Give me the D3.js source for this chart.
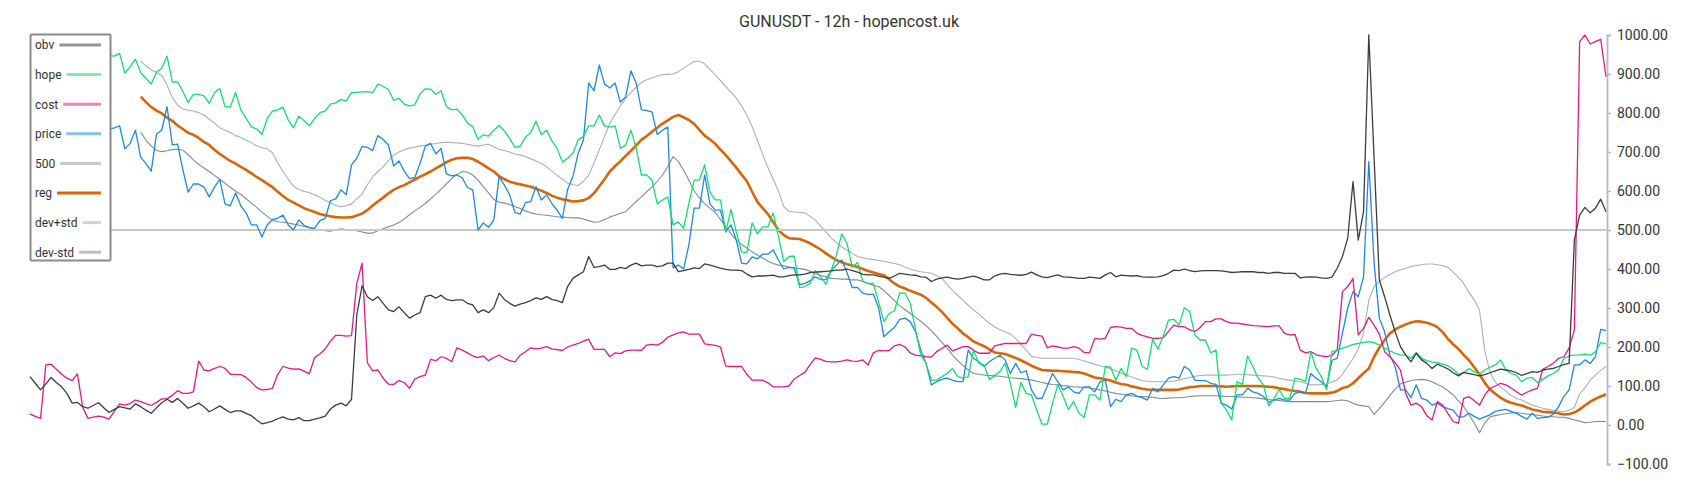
<!DOCTYPE html>
<html><head><meta charset="utf-8">
<script src="https://cdn.jsdelivr.net/npm/d3@7"></script>
<style>body{margin:0;background:#fff;} svg{display:block;font-family:Roboto, "Noto Sans", sans-serif;}</style>
</head><body>
<svg id="chart" width="1700" height="500"></svg>
<script>
const title = "GUNUSDT - 12h - hopencost.uk";
const seriesNames = ["obv","hope","cost","price","500","reg","dev+std","dev-std"];
const yTickValues = [-100,0,100,200,300,400,500,600,700,800,900,1000];
const levelValue = 500;

const obv = [
124,107,90,105,122,109,98,81,56,58,
47,43,50,57,44,32,40,47,44,41,
54,47,38,30,44,57,66,58,68,56,
43,49,56,47,34,41,49,40,32,36,
36,30,24,13,3,6,10,16,21,15,
13,19,11,11,15,18,23,41,51,56,
49,66,282,357,329,319,329,312,295,291,
303,288,274,282,288,329,333,325,333,322,
319,321,321,312,308,288,295,288,301,338,
322,312,305,310,314,319,326,322,329,322,
319,314,355,376,385,393,432,404,406,410,
399,399,404,401,410,415,408,410,410,406,
408,415,415,393,396,399,403,401,413,410,
406,402,399,397,397,396,387,380,382,382,
383,384,380,380,383,385,385,387,391,392,
393,394,395,397,397,400,396,392,386,385,
385,382,379,376,382,389,387,385,384,380,
379,368,374,377,379,376,374,376,379,382,
378,372,372,382,387,389,386,385,384,386,
392,385,380,378,382,385,380,379,378,376,
376,379,378,376,385,391,380,384,383,382,
383,380,379,379,380,383,389,397,396,400,
396,393,395,396,396,396,395,393,391,392,
393,393,393,391,391,389,391,391,389,389,
389,377,379,380,379,377,376,379,402,432,
479,624,474,547,1000,686,372,329,282,239,
201,179,162,184,167,158,145,156,150,144,
134,126,135,132,129,126,129,134,139,143,
141,139,134,127,132,137,135,141,143,145,
150,155,158,474,538,558,544,556,579,547];

const hope = [
935,945,950,940,938,945,930,935,942,948,
940,935,945,950,944,947,946,953,902,919,
938,903,889,874,905,915,946,879,880,855,
827,848,848,844,825,852,863,816,815,853,
808,786,765,759,745,786,805,808,815,782,
762,792,780,767,786,801,805,823,826,835,
831,852,853,854,855,852,874,868,861,832,
838,823,818,821,849,862,861,848,857,816,
808,810,795,774,765,733,744,741,756,768,
754,735,712,715,738,750,779,744,756,729,
709,674,684,697,731,740,767,767,795,767,
764,767,710,717,756,711,641,641,628,567,
577,585,513,521,504,568,628,628,667,597,
577,577,495,553,495,444,442,518,490,508,
508,544,483,419,432,433,352,355,363,396,
380,361,396,436,490,466,404,417,368,363,
363,315,265,286,293,339,338,312,244,179,
158,115,115,124,132,145,124,120,124,192,
158,154,117,126,137,158,107,45,109,81,
77,38,2,2,56,103,74,40,60,30,
20,77,77,64,150,148,115,145,124,197,
192,150,143,220,194,228,269,271,256,301,
291,231,218,218,185,192,56,38,13,111,
104,177,150,120,103,49,68,91,68,68,
120,117,111,188,145,124,90,188,192,197,
201,207,209,212,214,211,205,197,190,184,
179,179,171,186,171,165,161,160,156,152,
143,130,134,145,137,131,141,148,154,167,
141,132,128,111,120,122,109,117,126,132,
141,171,177,179,180,182,179,188,211,208];

const cost = [
28,22,17,154,156,143,130,120,114,131,
45,17,20,23,20,15,35,54,51,55,
64,60,55,50,58,67,67,76,88,81,
81,85,164,141,139,145,150,145,130,130,
129,122,110,96,90,91,94,130,150,146,
143,144,138,131,173,182,195,215,230,230,
228,229,363,415,160,139,141,120,105,104,
114,109,94,118,124,128,168,165,175,171,
162,198,192,185,177,173,177,165,173,179,
171,165,162,179,188,198,195,197,201,195,
193,191,200,205,209,215,220,194,194,194,
175,185,183,190,192,192,191,205,207,205,
212,225,231,236,239,233,233,233,208,206,
204,200,151,150,150,150,130,115,115,115,
108,98,98,98,100,118,127,135,155,172,
168,163,162,162,164,167,164,163,167,154,
185,191,190,191,203,207,200,185,179,177,
175,174,188,196,205,190,195,201,201,192,
184,184,184,203,206,209,209,209,209,209,
233,230,228,198,203,200,197,197,201,197,
186,185,222,220,222,250,252,251,248,248,
235,230,226,222,222,224,240,256,252,252,
244,240,250,265,265,272,272,265,261,261,
259,257,255,254,253,252,254,254,235,231,
232,192,185,188,180,177,175,179,192,342,
355,376,231,248,276,256,233,188,175,160,
141,81,51,56,47,24,13,60,51,30,
9,4,68,73,62,51,77,94,100,107,
103,95,85,77,84,90,94,143,150,158,
171,175,197,244,983,1000,977,983,989,893];

const price = [
760,765,740,770,755,745,760,735,750,765,
740,755,770,745,750,758,762,767,708,722,
756,687,670,651,746,756,816,718,720,654,
597,618,618,610,585,610,630,567,562,595,
562,544,513,513,482,513,527,530,538,513,
500,526,512,506,504,524,530,575,580,603,
590,667,684,714,712,703,742,732,718,664,
677,651,632,634,671,715,722,695,709,644,
639,641,634,609,603,500,518,507,526,637,
615,590,545,541,570,573,611,577,590,568,
551,530,604,637,697,731,877,857,923,874,
864,877,828,841,908,877,808,806,803,745,
756,764,403,410,400,462,556,556,641,567,
551,551,495,513,474,415,413,431,426,438,
438,449,423,400,404,402,359,363,370,380,
373,373,396,410,423,391,352,353,338,335,
335,300,226,239,250,271,274,265,239,192,
158,103,111,117,120,115,111,111,192,171,
162,150,162,171,179,167,132,158,134,139,
90,68,68,100,132,111,90,98,85,81,
98,98,85,111,115,47,66,60,77,81,
74,70,64,94,85,103,120,124,120,150,
141,115,114,114,107,104,56,51,41,77,
77,94,85,81,73,58,64,68,64,64,
81,85,81,132,120,111,98,166,171,235,
300,342,329,380,675,415,274,239,179,150,
90,90,70,103,68,64,51,56,47,42,
38,21,21,30,22,15,21,26,35,38,
40,35,30,22,15,30,17,19,20,28,
47,73,90,154,154,167,158,175,245,242];

const reg = [
null,null,null,null,null,null,null,null,null,null,
null,null,null,null,null,null,null,null,null,null,
null,842,828,815,806,799,788,780,768,759,
749,744,736,726,718,706,695,686,677,670,
662,654,645,636,628,619,610,598,587,577,
570,563,556,551,546,541,538,535,533,532,
532,533,537,542,551,563,573,583,594,603,
610,615,622,629,637,643,650,658,666,674,
680,684,685,685,682,675,667,658,650,638,
630,624,620,617,614,611,606,601,595,588,
583,579,576,573,574,576,582,594,612,630,
650,664,676,690,703,717,731,741,752,762,
773,781,790,795,789,782,772,757,742,732,
721,706,692,676,660,642,625,598,572,556,
541,520,500,487,479,478,477,472,466,458,
450,440,431,423,417,412,409,405,400,395,
391,387,384,374,363,355,350,344,339,334,
326,314,303,290,275,260,248,235,225,214,
208,202,194,186,184,182,177,172,166,159,
152,146,141,140,139,139,138,137,136,135,
132,127,122,120,117,114,109,105,103,99,
96,93,91,90,90,90,90,90,91,94,
97,98,100,100,100,100,99,98,99,100,
100,100,100,100,99,98,97,94,92,89,
87,85,82,81,81,81,81,83,87,95,
98,107,120,133,145,175,198,218,235,245,
252,258,263,266,265,262,258,251,238,221,
207,195,180,166,148,130,108,91,80,70,
62,57,53,50,45,40,37,34,33,32,
30,27,28,32,40,50,60,67,73,79];

const devPlus = [
null,null,null,null,null,null,null,null,null,null,
null,null,null,null,null,null,null,null,null,null,
null,933,921,911,904,896,872,840,820,811,
807,805,801,795,784,774,762,756,750,742,
737,730,724,716,711,708,698,672,650,630,
612,604,599,596,590,584,576,570,563,560,
562,567,580,592,616,636,650,662,678,692,
700,706,710,713,715,717,720,722,724,725,
724,723,722,720,717,715,718,720,713,707,
704,700,695,692,688,683,677,671,662,651,
640,630,620,616,614,625,640,672,705,740,
773,796,818,837,852,866,878,885,890,895,
898,899,900,906,915,924,932,933,926,912,
898,883,868,853,838,818,795,765,730,694,
660,630,600,560,548,546,545,544,535,525,
510,495,480,468,457,448,440,432,429,426,
424,422,420,417,414,411,405,400,396,393,
391,389,383,376,360,345,332,320,307,295,
285,272,261,252,244,239,233,222,207,192,
176,173,171,171,171,171,171,171,171,168,
164,160,156,152,148,144,139,133,128,123,
118,114,112,111,111,111,111,113,115,119,
122,125,127,128,128,128,128,128,129,130,
130,129,128,127,126,125,123,120,117,115,
113,111,107,103,103,104,105,110,116,130,
150,170,195,235,320,355,368,378,386,393,
398,402,406,409,411,413,413,411,409,404,
392,379,363,340,321,295,190,135,110,97,
87,76,68,64,57,51,47,43,40,38,
36,34,38,45,80,95,115,128,140,150];

const devMinus = [
null,null,null,null,null,null,null,null,null,null,
null,null,null,null,null,null,null,null,null,null,
null,751,730,715,704,701,703,706,707,705,
693,680,668,659,650,640,630,620,609,600,
591,580,569,558,546,535,526,521,520,518,
515,513,509,506,502,500,498,497,500,503,
501,500,498,495,492,492,498,503,508,513,
519,528,539,549,558,568,580,592,605,618,
632,642,650,648,641,628,611,595,578,571,
569,565,560,555,549,544,541,539,538,536,
534,533,532,531,531,528,524,520,521,527,
533,538,543,547,560,573,585,598,610,625,
641,662,688,676,653,628,600,583,567,556,
545,527,508,490,474,463,454,444,436,428,
420,414,410,408,405,403,401,399,394,388,
383,380,376,375,374,374,372,372,368,363,
358,355,345,332,319,306,296,286,276,266,
255,242,227,212,197,180,165,153,141,132,
130,128,127,126,125,123,121,120,119,117,
115,112,109,106,104,103,101,100,98,97,
96,95,93,90,87,84,81,79,77,75,
73,73,72,71,69,68,69,70,70,71,
73,74,75,75,75,75,74,73,73,72,
71,71,70,69,67,65,64,63,61,60,
60,60,60,60,60,60,60,61,63,64,
62,56,51,49,47,27,42,58,76,92,
105,110,114,116,117,115,111,104,98,88,
77,62,47,27,5,-20,5,21,24,27,
29,31,32,30,28,27,25,23,21,21,
20,20,17,13,10,6,7,9,9,9];

const colors = {
  "obv": "#3d3d3d", "hope": "#12e06e", "cost": "#e6197f", "price": "#1e88e5",
  "500": "#c8c8c8", "reg": "#dc6408", "dev+std": "#a9b0b7", "dev-std": "#7f8c98"
};
const widths = {"obv":1.3,"hope":1.3,"cost":1.3,"price":1.3,"500":2,"reg":2.6,"dev+std":1.1,"dev-std":1.1};

const svg = d3.select("#chart");
const n = obv.length;
const x = d3.scaleLinear().domain([0, n - 1]).range([30, 1606]);
const y = d3.scaleLinear().domain([-100, 1000]).range([464, 35]);

// title
svg.append("text").attr("x", 849).attr("y", 26.5).attr("text-anchor", "middle")
  .attr("font-size", 16).attr("fill", "#333").text(title);

// right axis
const axis = d3.axisRight(y).tickValues(yTickValues).tickSize(4).tickPadding(6)
  .tickFormat(d => d3.format(".2f")(d));
const gAxis = svg.append("g").attr("transform", "translate(1607,0)").call(axis);
gAxis.select(".domain").attr("stroke", "#b3bcc4").attr("stroke-width", 1.8);
gAxis.selectAll(".tick line").attr("stroke", "#b3bcc4").attr("stroke-width", 1.5);
gAxis.selectAll(".tick text").attr("fill", "#333").attr("font-size", 14)
  .attr("font-family", "Roboto, sans-serif");

const lineGen = d3.line().defined(d => d != null).x((d, i) => x(i)).y(d => y(d));

const seriesData = {
  "obv": obv, "hope": hope, "cost": cost, "price": price,
  "500": obv.map(() => levelValue), "reg": reg, "dev+std": devPlus, "dev-std": devMinus
};

const plot = svg.append("g");
// draw in reverse order so that the first series ends on top
seriesNames.slice().reverse().forEach(name => {
  plot.append("path").datum(seriesData[name])
    .attr("fill", "none").attr("stroke", colors[name])
    .attr("stroke-width", widths[name])
    .attr("stroke-linejoin", "round")
    .attr("d", lineGen);
});

// legend
const lg = svg.append("g");
lg.append("rect").attr("x", 30.5).attr("y", 34.5).attr("width", 80).attr("height", 226)
  .attr("fill", "#fff").attr("stroke", "#8a8a8a").attr("stroke-width", 2).attr("rx", 1);
seriesNames.forEach((name, k) => {
  const cy = 45 + k * 29.6;
  const t = lg.append("text").attr("x", 35).attr("y", cy).attr("dy", "0.36em")
    .attr("font-size", 12).attr("fill", "#333").text(name);
  const w = t.node().getComputedTextLength();
  lg.append("line").attr("x1", 35 + w + 5).attr("x2", 101).attr("y1", cy).attr("y2", cy)
    .attr("stroke", colors[name]).attr("stroke-width", 3)
    .attr("stroke-opacity", (name === "reg" || name === "500") ? 1 : 0.55);
});
</script>
</body></html>
